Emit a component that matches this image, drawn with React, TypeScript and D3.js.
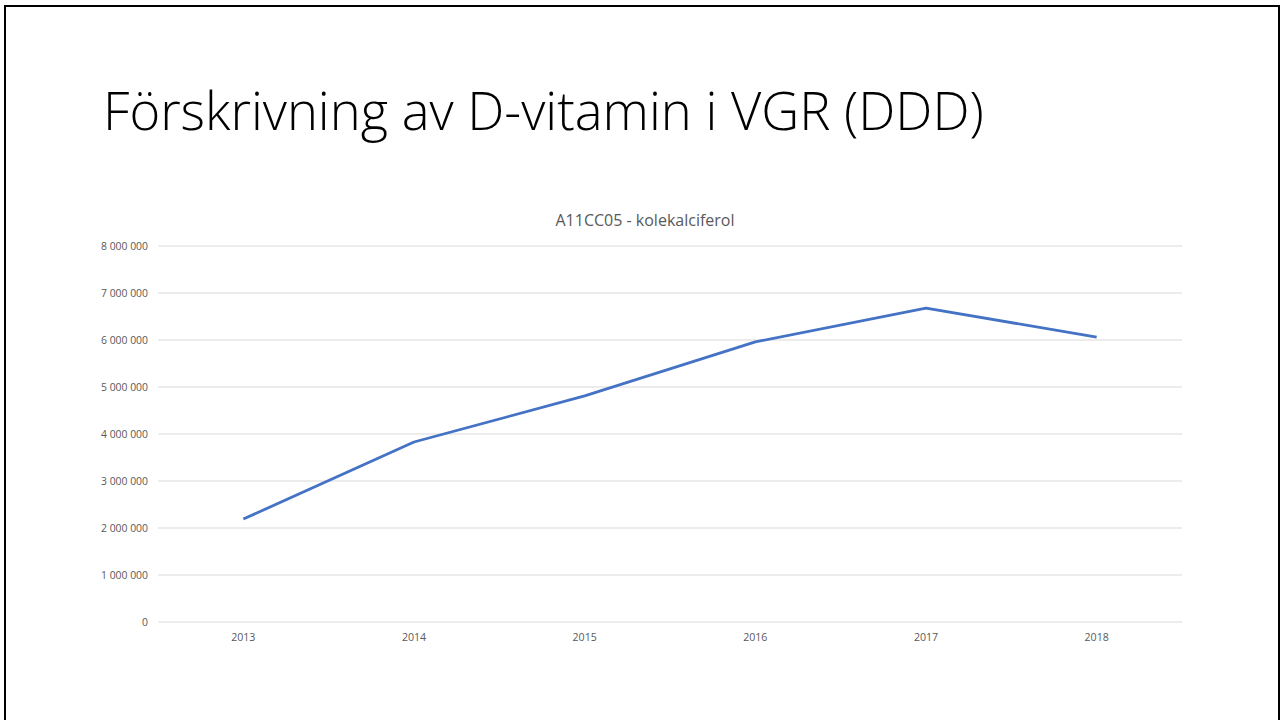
import React, { useEffect, useRef } from 'react';
import * as d3 from 'd3';

const WIDTH = 1282;
const HEIGHT = 720;
const PLOT = { left: 158, right: 1182, top: 246, bottom: 622 };

const years = ['2013', '2014', '2015', '2016', '2017', '2018'];
const ddd = [2190000, 3830000, 4810000, 5960000, 6680000, 6060000];
const yTicks = [0, 1000000, 2000000, 3000000, 4000000, 5000000, 6000000, 7000000, 8000000];

const fmt = (v: number) => d3.format(',')(v).replace(/,/g, ' ');

const App: React.FC = () => {
    const svgRef = useRef<SVGSVGElement>(null);

    useEffect(() => {
        if (!svgRef.current) return;
        const svg = d3.select(svgRef.current);
        svg.selectAll('*').remove();

        svg.append('rect')
            .attr('width', WIDTH).attr('height', HEIGHT).attr('fill', 'white');

        // ram runt bilden
        svg.append('path')
            .attr('d', `M5,${HEIGHT} L5,6 L1279,6 L1279,${HEIGHT}`)
            .attr('fill', 'none')
            .attr('stroke', '#000')
            .attr('stroke-width', 2);

        svg.append('text')
            .attr('x', 103).attr('y', 130)
            .text('Förskrivning av D-vitamin i VGR (DDD)')
            .style('font-family', '"Open Sans", sans-serif')
            .style('font-weight', '300')
            .style('font-size', '52.5px')
            .style('fill', '#000');

        const x = d3.scaleBand().domain(years).range([PLOT.left, PLOT.right]);
        const y = d3.scaleLinear().domain([0, 8000000]).range([PLOT.bottom, PLOT.top]);

        svg.append('text')
            .attr('x', 645)
            .attr('y', 226)
            .attr('text-anchor', 'middle')
            .text('A11CC05 - kolekalciferol')
            .style('font-family', '"Open Sans", sans-serif')
            .style('font-size', '16px')
            .style('fill', '#595959');

        svg.append('g').selectAll('line').data(yTicks).enter()
            .append('line')
            .attr('x1', PLOT.left).attr('x2', PLOT.right)
            .attr('y1', d => y(d)).attr('y2', d => y(d))
            .attr('stroke', '#d9d9d9').attr('stroke-width', 1);

        svg.append('g').selectAll('text').data(yTicks).enter()
            .append('text')
            .attr('x', 148).attr('y', d => y(d))
            .attr('dy', '0.35em')
            .attr('text-anchor', 'end')
            .text(d => fmt(d))
            .style('font-family', '"Open Sans", sans-serif')
            .style('font-size', '10.4px')
            .style('fill', '#595959');

        svg.append('g').selectAll('text').data(years).enter()
            .append('text')
            .attr('x', d => x(d)! + x.bandwidth() / 2)
            .attr('y', PLOT.bottom + 19)
            .attr('text-anchor', 'middle')
            .text(d => d)
            .style('font-family', '"Open Sans", sans-serif')
            .style('font-size', '10.6px')
            .style('fill', '#595959');

        const line = d3.line<number>()
            .x((_, i) => x(years[i])! + x.bandwidth() / 2)
            .y(d => y(d));

        svg.append('path')
            .datum(ddd)
            .attr('d', line)
            .attr('fill', 'none')
            .attr('stroke', '#4472C4')
            .attr('stroke-width', 2.8)
            .attr('stroke-linejoin', 'round');
    }, []);

    return <svg ref={svgRef} width={WIDTH} height={HEIGHT} style={{ display: 'block', position: 'absolute', left: 0, top: 0 }} />;
};

export default App;
